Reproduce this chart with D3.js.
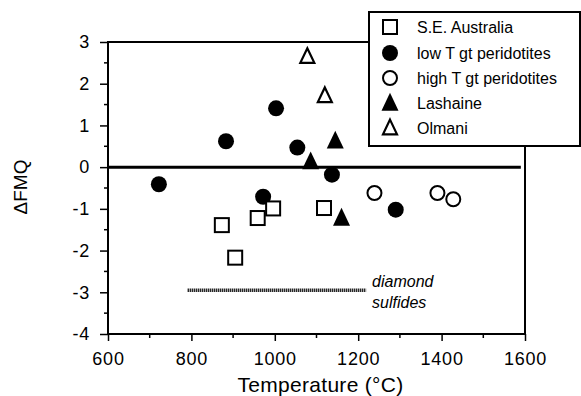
<!DOCTYPE html>
<html><head><meta charset="utf-8">
<script src="https://cdn.jsdelivr.net/npm/d3@7"></script>
<style>body{margin:0;background:#fff}svg{display:block}text{font-family:"Liberation Sans",Arial,Helvetica,sans-serif;fill:#000}</style>
</head><body><svg id="c" width="581" height="396"></svg>
<script>
const xTicks = [600, 800, 1000, 1200, 1400, 1600];
const yTicks = [-4, -3, -2, -1, 0, 1, 2, 3];
const seAustralia = [[873,-1.39],[905,-2.17],[959,-1.22],[996,-0.99],[1118,-0.98]];
const lowT = [[722,-0.41],[883,0.62],[1003,1.41],[1054,0.47],[972,-0.71],[1137,-0.18],[1290,-1.02]];
const highT = [[1239,-0.62],[1390,-0.62],[1428,-0.77]];
const lashaine = [[1145,0.63],[1086,0.13],[1160,-1.22]];
const olmani = [[1078,2.65],[1120,1.71]];
const diamondSulfides = [[791,-2.95],[1219,-2.95]];
const legendLabels = ["S.E. Australia","low T gt peridotites","high T gt peridotites","Lashaine","Olmani"];

const svg = d3.select("#c");
const x = d3.scaleLinear().domain([600,1600]).range([108,525]);
const y = d3.scaleLinear().domain([-4,3]).range([334,42]);

// frame
svg.append("rect").attr("x",x(600)).attr("y",y(3)).attr("width",x(1600)-x(600)).attr("height",y(-4)-y(3))
  .attr("fill","none").attr("stroke","#000").attr("stroke-width",2);

// axes
const yAxis = d3.axisLeft(y).tickValues(yTicks).tickSize(8).tickPadding(10).tickFormat(d=>String(d));
const gy = svg.append("g").attr("transform",`translate(${x(600)},0)`).call(yAxis);
const yMinor = d3.range(-3.5,3,1);
svg.append("g").selectAll("line").data(yMinor).join("line")
  .attr("x1",x(600)-4).attr("x2",x(600)).attr("y1",d=>y(d)).attr("y2",d=>y(d)).attr("stroke","#000").attr("stroke-width",1.5);
const xAxis = d3.axisBottom(x).tickValues(xTicks).tickSize(7).tickPadding(11).tickFormat(d=>String(d));
const gx = svg.append("g").attr("transform",`translate(0,${y(-4)})`).call(xAxis);
const xMinor = d3.range(700,1600,200);
svg.append("g").selectAll("line").data(xMinor).join("line")
  .attr("x1",d=>x(d)).attr("x2",d=>x(d)).attr("y1",y(-4)).attr("y2",y(-4)+4).attr("stroke","#000").attr("stroke-width",1.5);
[gx,gy].forEach(g=>{
  g.select(".domain").remove();
  g.selectAll(".tick line").attr("stroke","#000").attr("stroke-width",1.5);
  g.selectAll("text").style("font-size","18px").style("letter-spacing","0.8px").attr("font-family","Liberation Sans, Arial, sans-serif");
});

// zero line
svg.append("line").attr("x1",x(600)).attr("x2",x(1590)).attr("y1",y(0)).attr("y2",y(0))
  .attr("stroke","#000").attr("stroke-width",3);

// diamond sulfides
svg.append("line").attr("x1",x(diamondSulfides[0][0])).attr("x2",x(diamondSulfides[1][0]))
  .attr("y1",y(diamondSulfides[0][1])).attr("y2",y(diamondSulfides[1][1]))
  .attr("stroke","#000").attr("stroke-width",3.5).attr("stroke-dasharray","1.2,0.8");
const ds = svg.append("text").attr("x",x(diamondSulfides[1][0])+6).attr("y",y(diamondSulfides[1][1])-3)
  .style("font-size","16px").style("font-style","italic");
ds.append("tspan").text("diamond");
ds.append("tspan").attr("x",x(diamondSulfides[1][0])+6).attr("dy","21").text("sulfides");

// symbols
const tri = (cx,cy,s)=>`M${cx},${cy-s*0.6}L${cx+s*0.5},${cy+s*0.45}L${cx-s*0.5},${cy+s*0.45}Z`;
function drawSquares(g,data){
  g.selectAll("rect.sq").data(data).join("rect").attr("class","sq")
   .attr("x",d=>x(d[0])-7).attr("y",d=>y(d[1])-7).attr("width",14).attr("height",14)
   .attr("fill","#fff").attr("stroke","#000").attr("stroke-width",2);
}
function drawCircles(g,data,filled){
  g.selectAll(null).data(data).join("circle")
   .attr("cx",d=>x(d[0])).attr("cy",d=>y(d[1])).attr("r",filled?8:7)
   .attr("fill",filled?"#000":"#fff").attr("stroke","#000").attr("stroke-width",filled?0:2);
}
function drawTris(g,data,filled){
  g.selectAll(null).data(data).join("path")
   .attr("d",d=>tri(x(d[0]),y(d[1]),filled?17:14))
   .attr("fill",filled?"#000":"#fff").attr("stroke","#000").attr("stroke-width",filled?0:2.2).attr("stroke-linejoin","miter");
}
const pts = svg.append("g");
drawCircles(pts.append("g"),lowT,true);
drawSquares(pts.append("g"),seAustralia);
drawCircles(pts.append("g"),highT,false);
drawTris(pts.append("g"),lashaine,true);
drawTris(pts.append("g"),olmani,false);

// legend
const lg = svg.append("g");
lg.append("rect").attr("x",369).attr("y",12).attr("width",211).attr("height",134)
  .attr("fill","#fff").attr("stroke","#000").attr("stroke-width",2);
const rows = [27,53,78,103,128];
const lx = 390;
lg.append("rect").attr("x",lx-7).attr("y",rows[0]-7).attr("width",14).attr("height",14)
  .attr("fill","#fff").attr("stroke","#000").attr("stroke-width",2);
lg.append("circle").attr("cx",lx).attr("cy",rows[1]).attr("r",8).attr("fill","#000");
lg.append("circle").attr("cx",lx).attr("cy",rows[2]).attr("r",7).attr("fill","#fff").attr("stroke","#000").attr("stroke-width",2);
lg.append("path").attr("d",tri(lx,rows[3],17)).attr("fill","#000");
lg.append("path").attr("d",tri(lx,rows[4],14)).attr("fill","#fff").attr("stroke","#000").attr("stroke-width",2.2);
lg.selectAll("text").data(legendLabels).join("text")
  .attr("x",417).attr("y",(d,i)=>rows[i]+6).style("font-size","16px").text(d=>d);

// axis titles
svg.append("text").attr("x",(x(600)+x(1600))/2+4).attr("y",392).attr("text-anchor","middle")
  .style("font-size","21px").style("letter-spacing","0.3px").text("Temperature (°C)");
svg.append("text").attr("transform",`translate(27,187) rotate(-90)`).attr("text-anchor","middle")
  .style("font-size","19px").text("ΔFMQ");
</script></body></html>
